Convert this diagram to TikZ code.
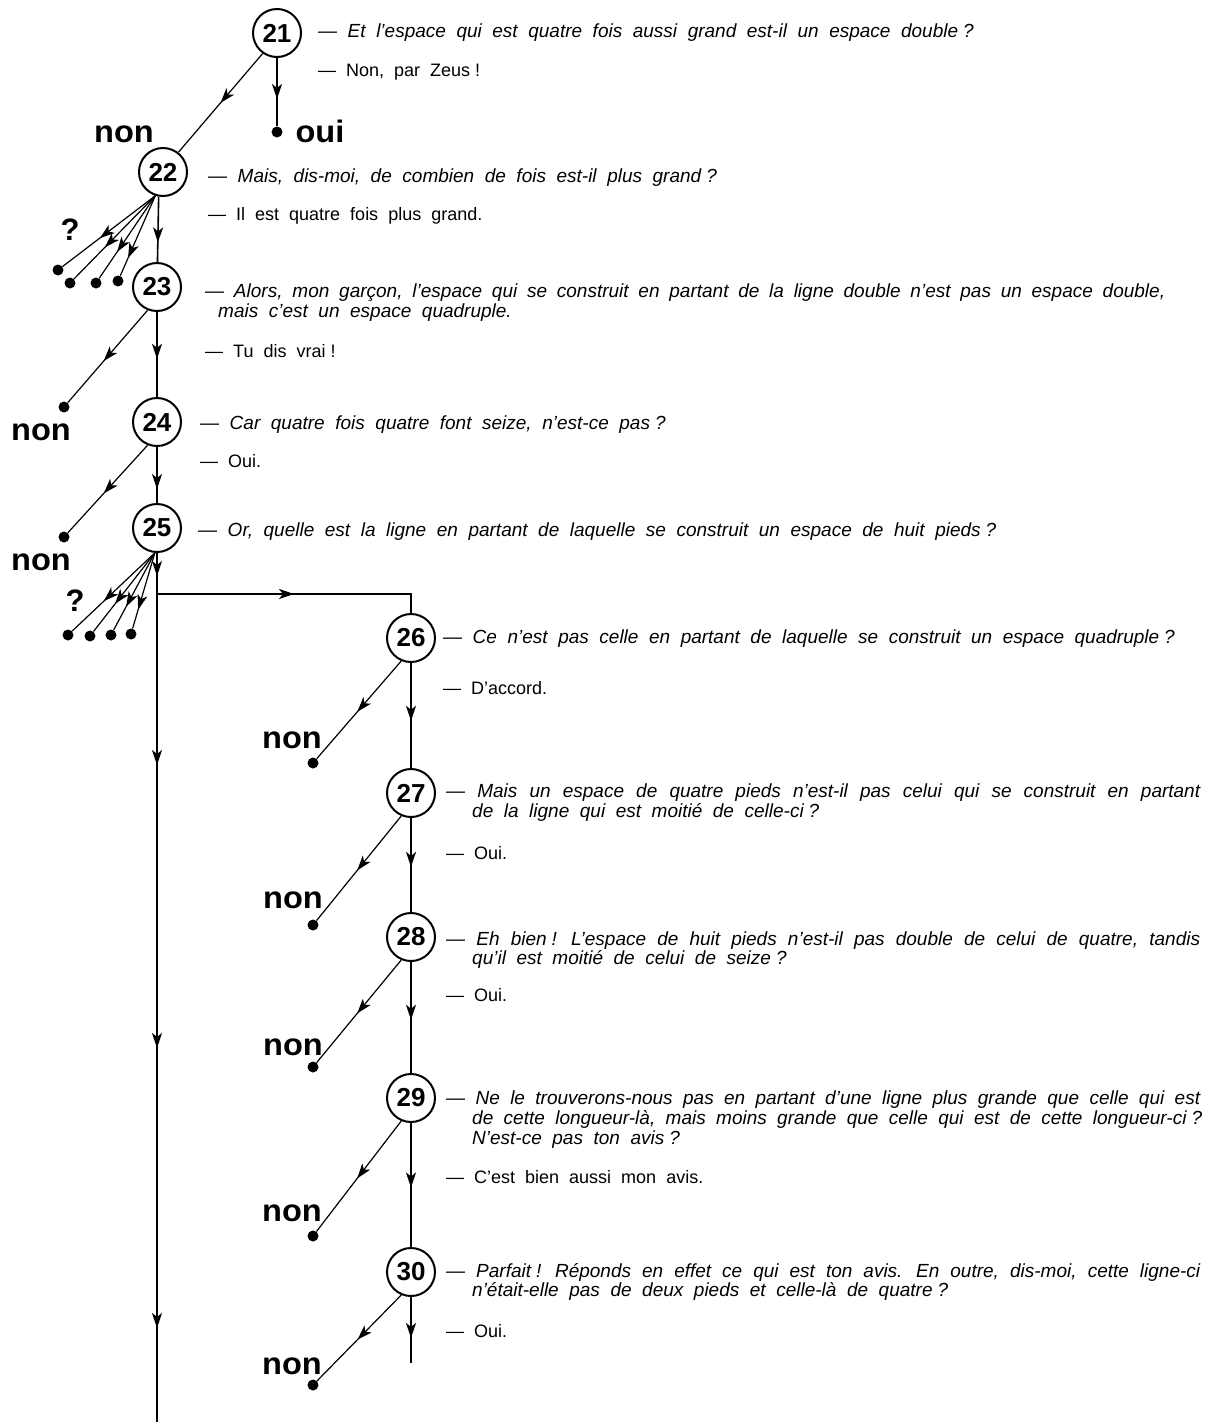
\documentclass[tikz,border=0pt]{standalone}
\usepackage{fontspec}
\setmainfont{Liberation Sans}
\newfontfamily\txtfont[WordSpace=2]{Liberation Sans}
\usepackage{graphicx}
\usetikzlibrary{arrows.meta,decorations.markings}
\newcommand\mytip{\arrow{Stealth[length=15pt,width=10pt,inset=4pt]}}
\newcommand\jline[2]{\makebox[#1pt][s]{#2}}
\newcommand\wide[1]{\scalebox{1.05}[1]{#1}}
\newcommand\pq{\kern5pt?}
\newcommand\pe{\kern5pt!}
\tikzset{
  num/.style={circle,draw,line width=2pt,minimum size=48pt,inner sep=0pt,
    font=\fontsize{26}{26}\selectfont\bfseries},
  enddot/.style={circle,fill,inner sep=0pt,minimum size=11pt},
  vline/.style={line width=1.6pt},
  dline/.style={line width=1.2pt},
  tipat/.style={postaction={decorate,decoration={markings,mark=at position #1 with {\mytip}}}},
  txt/.style={anchor=base west,inner sep=0pt,font=\txtfont\fontsize{18}{20}\selectfont},
  qtxt/.style={txt,font=\txtfont\fontsize{19}{20}\selectfont\itshape},
  biglabel/.style={anchor=base,inner sep=0pt,font=\fontsize{31}{31}\selectfont\bfseries},
}
\begin{document}
\begin{tikzpicture}[x=1pt,y=-1pt]
\useasboundingbox (0,0) rectangle (1215,1422);
% circled steps
\node[num] (n21) at (277,33) {21};
\node[num] (n22) at (163,172) {22};
\node[num] (n23) at (157,287) {23};
\node[num] (n24) at (157,422) {24};
\node[num] (n25) at (157,528) {25};
\node[num] (n26) at (411,638) {26};
\node[num] (n27) at (411,793) {27};
\node[num] (n28) at (411,937) {28};
\node[num] (n29) at (411,1098) {29};
\node[num] (n30) at (411,1272) {30};
% end dots
\node[enddot] (oui) at (277,132) {};
\node[enddot] (d22a) at (58,270) {};
\node[enddot] (d22b) at (70,283) {};
\node[enddot] (d22c) at (96,283) {};
\node[enddot] (d22d) at (118,281) {};
\node[enddot] (d23) at (64,407) {};
\node[enddot] (d24) at (64,537) {};
\node[enddot] (d25a) at (68,635) {};
\node[enddot] (d25b) at (90,636) {};
\node[enddot] (d25c) at (111,635) {};
\node[enddot] (d25d) at (131,634) {};
\node[enddot] (d26) at (313,763) {};
\node[enddot] (d27) at (313,925) {};
\node[enddot] (d28) at (313,1067) {};
\node[enddot] (d29) at (313,1236) {};
\node[enddot] (d30) at (313,1385) {};
\coordinate (end30) at (411,1363);
\coordinate (bottom) at (157,1422);
\coordinate (br) at (157,594);
\coordinate (brc) at (411,594);
% labels
\node[biglabel] (loui) at (320,142) {\wide{oui}};
\node[biglabel] (l22) at (124,142) {\wide{non}};
\node[biglabel] (l23) at (41,440) {\wide{non}};
\node[biglabel] (l24) at (41,570) {\wide{non}};
\node[biglabel] (l26) at (292,748) {\wide{non}};
\node[biglabel] (l27) at (293,908) {\wide{non}};
\node[biglabel] (l28) at (293,1055) {\wide{non}};
\node[biglabel] (l29) at (292,1221) {\wide{non}};
\node[biglabel] (l30) at (292,1374) {\wide{non}};
\node[biglabel] (q22) at (70,240) {?};
\node[biglabel] (q25) at (75,611) {?};
% connectors
\draw[dline,tipat=0.5] (n21.-125) -- (n22.52);
\draw[vline,tipat=0.6] (n21) -- (oui);
\draw[vline,tipat=0.7] (n22.-100) -- (n23);
\coordinate (o22) at (n22.-108);
\draw[dline,tipat=0.6] (o22) -- (d22a);
\draw[dline,tipat=0.62] (o22) -- (d22b);
\draw[dline,tipat=0.68] (o22) -- (d22c);
\draw[dline,tipat=0.78] (o22) -- (d22d);
\draw[dline,tipat=0.55] (n23.-112) -- (d23);
\draw[vline,tipat=0.55] (n23) -- (n24);
\draw[dline,tipat=0.55] (n24.-112) -- (d24);
\draw[vline,tipat=0.75] (n24) -- (n25);
\coordinate (o25) at (n25.-95);
\draw[dline,tipat=0.62] (o25) -- (d25a);
\draw[dline,tipat=0.65] (o25) -- (d25b);
\draw[dline,tipat=0.7] (o25) -- (d25c);
\draw[dline,tipat=0.75] (o25) -- (d25d);
\draw[vline,tipat=23pt,tipat=212pt,tipat=495pt,tipat=775pt] (n25) -- (bottom);
\draw[vline,tipat=137pt] (br) -- (brc) -- (n26);
\draw[vline,tipat=0.55] (n26) -- (n27);
\draw[vline,tipat=0.52] (n27) -- (n28);
\draw[vline,tipat=0.52] (n28) -- (n29);
\draw[vline,tipat=0.52] (n29) -- (n30);
\draw[vline,tipat=0.62] (n30) -- (end30);
\draw[dline,tipat=0.52] (n26.-113) -- (d26);
\draw[dline,tipat=0.52] (n27.-113) -- (d27);
\draw[dline,tipat=0.52] (n28.-113) -- (d28);
\draw[dline,tipat=0.52] (n29.-113) -- (d29);
\draw[dline,tipat=0.52] (n30.-113) -- (d30);
% dialogue
\node[qtxt] (t21q) at (318,37) {— Et l’espace qui est quatre fois aussi grand est-il un espace double\pq};
\node[txt] (t21a) at (318,76) {— Non, par Zeus\pe};
\node[qtxt] (t22q) at (208,182) {— Mais, dis-moi, de combien de fois est-il plus grand\pq};
\node[txt] (t22a) at (208,220) {— Il est quatre fois plus grand.};
\node[qtxt] (t23q) at (205,297) {\jline{960}{— Alors, mon garçon, l’espace qui se construit en partant de la ligne double n’est pas un espace double,}};
\node[qtxt] (t23r) at (218,317) {mais c’est un espace quadruple.};
\node[txt] (t23a) at (205,357) {— Tu dis vrai\pe};
\node[qtxt] (t24q) at (200,429) {— Car quatre fois quatre font seize, n’est-ce pas\pq};
\node[txt] (t24a) at (200,467) {— Oui.};
\node[qtxt] (t25q) at (198,536) {— Or, quelle est la ligne en partant de laquelle se construit un espace de huit pieds\pq};
\node[qtxt] (t26q) at (443,643) {— Ce n’est pas celle en partant de laquelle se construit un espace quadruple\pq};
\node[txt] (t26a) at (443,694) {— D’accord.};
\node[qtxt] (t27q) at (446,797) {\jline{754}{— Mais un espace de quatre pieds n’est-il pas celui qui se construit en partant}};
\node[qtxt] (t27r) at (472,817) {de la ligne qui est moitié de celle-ci\pq};
\node[txt] (t27a) at (446,859) {— Oui.};
\node[qtxt] (t28q) at (446,945) {\jline{754}{— Eh bien\pe{} L’espace de huit pieds n’est-il pas double de celui de quatre, tandis}};
\node[qtxt] (t28r) at (472,964) {qu’il est moitié de celui de seize\pq};
\node[txt] (t28a) at (446,1001) {— Oui.};
\node[qtxt] (t29q) at (446,1104) {\jline{754}{— Ne le trouverons-nous pas en partant d’une ligne plus grande que celle qui est}};
\node[qtxt] (t29r) at (472,1124) {\jline{730}{de cette longueur-là, mais moins grande que celle qui est de cette longueur-ci\pq}};
\node[qtxt] (t29s) at (472,1144) {N’est-ce pas ton avis\pq};
\node[txt] (t29a) at (446,1183) {— C’est bien aussi mon avis.};
\node[qtxt] (t30q) at (446,1277) {\jline{754}{— Parfait\pe{} Réponds en effet ce qui est ton avis. En outre, dis-moi, cette ligne-ci}};
\node[qtxt] (t30r) at (472,1296) {n’était-elle pas de deux pieds et celle-là de quatre\pq};
\node[txt] (t30a) at (446,1337) {— Oui.};
\end{tikzpicture}
\end{document}
